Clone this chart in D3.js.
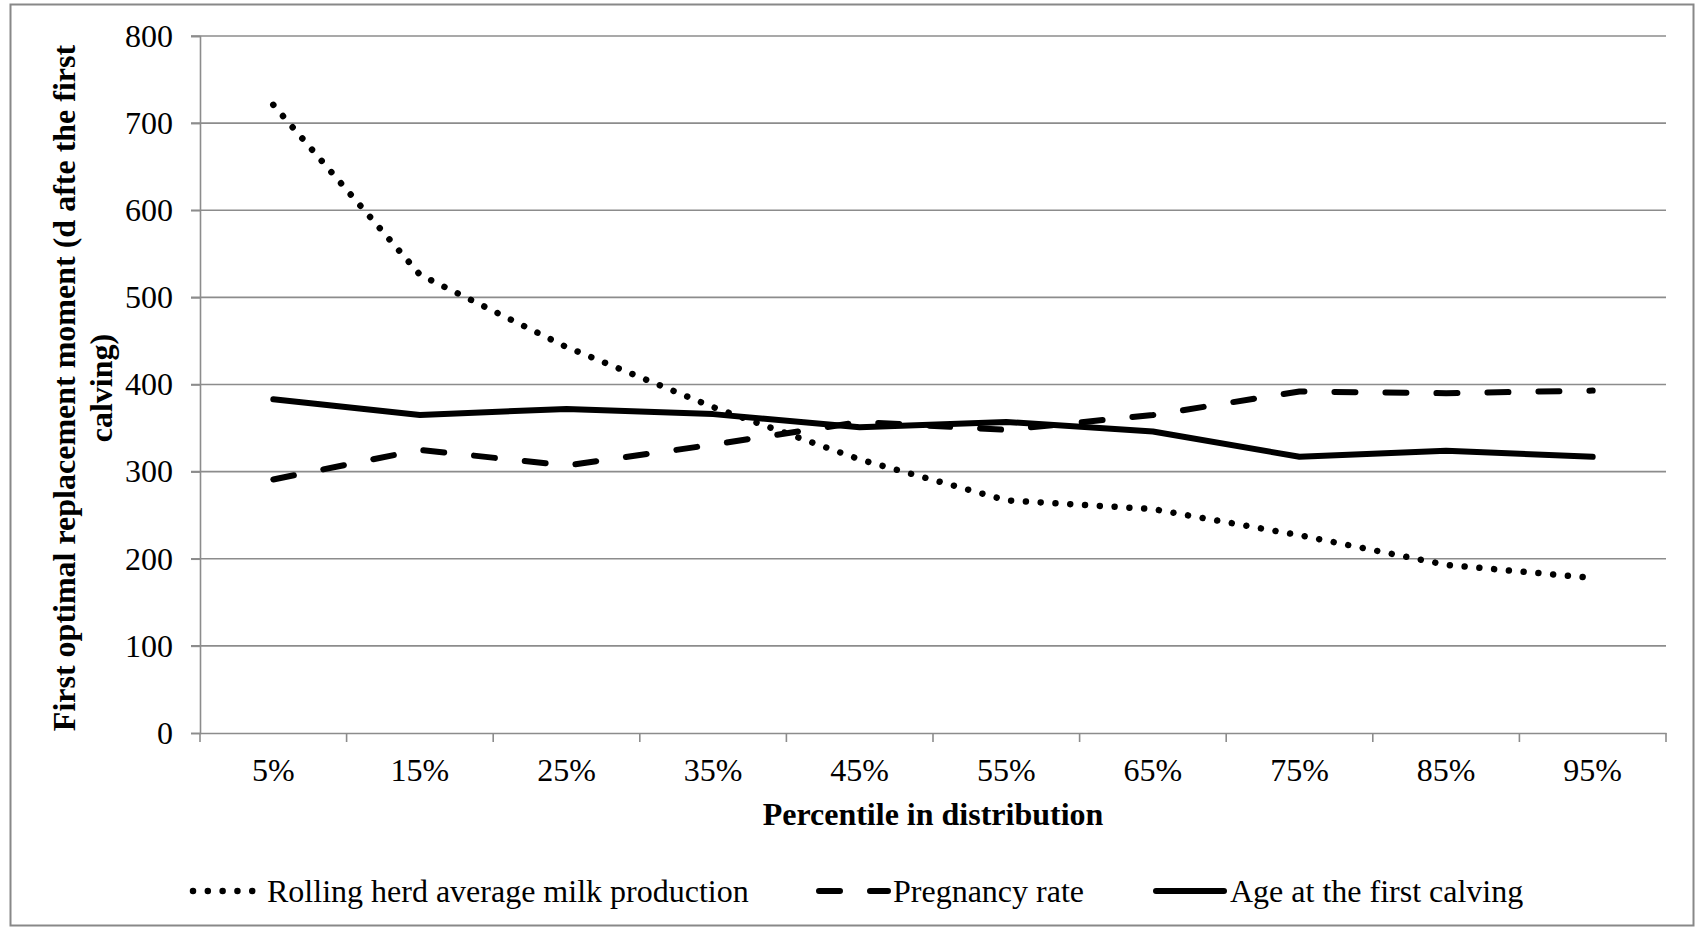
<!DOCTYPE html>
<html>
<head>
<meta charset="utf-8">
<script src="https://cdn.jsdelivr.net/npm/d3@7"></script>
<style>
  html, body { margin: 0; padding: 0; background: #fff; }
  svg { display: block; }
</style>
</head>
<body>
<svg id="chart" width="1696" height="929"></svg>
<script>
const categories = ["5%", "15%", "25%", "35%", "45%", "55%", "65%", "75%", "85%", "95%"];
const milkProduction = [721, 526, 443, 374, 314, 267, 257, 227, 193, 178];
const pregnancyRate = [291, 325, 307, 331, 357, 348, 365, 392, 390, 393];
const ageFirstCalving = [383, 365, 372, 366, 351, 357, 346, 317, 324, 317];
const yTicks = [0, 100, 200, 300, 400, 500, 600, 700, 800];
const seriesNames = ["Rolling herd average milk production", "Pregnancy rate", "Age at the first calving"];

const FONT = "'Liberation Serif', 'Times New Roman', serif";
const svg = d3.select("#chart");
const plot = { left: 200, right: 1666, top: 36, bottom: 733 };

// outer border
svg.append("rect")
  .attr("x", 10.5).attr("y", 4.5)
  .attr("width", 1683).attr("height", 921)
  .attr("fill", "#fff").attr("stroke", "#888").attr("stroke-width", 2);

const x = d3.scaleBand().domain(categories).range([plot.left, plot.right]);
const y = d3.scaleLinear().domain([0, 800]).range([plot.bottom, plot.top]);

// gridlines
svg.append("g").selectAll("line").data(yTicks.filter(d => d > 0)).join("line")
  .attr("x1", plot.left - 9).attr("x2", plot.right)
  .attr("y1", d => y(d)).attr("y2", d => y(d))
  .attr("stroke", "#8c8c8c").attr("stroke-width", 1.6);

// y axis
const yAxis = svg.append("g")
  .attr("transform", `translate(${plot.left},0)`)
  .call(d3.axisLeft(y).tickValues(yTicks).tickSize(9).tickPadding(18).tickFormat(d3.format("d")));
yAxis.select(".domain").attr("stroke", "#8c8c8c").attr("stroke-width", 1.6);
yAxis.selectAll(".tick line").attr("stroke", "#8c8c8c").attr("stroke-width", 1.6);
yAxis.selectAll(".tick text").attr("font-family", FONT).attr("font-size", 32).attr("fill", "#000");

// x axis
const xAxis = svg.append("g")
  .attr("transform", `translate(0,${plot.bottom})`)
  .call(d3.axisBottom(x).tickSize(0).tickPadding(25));
xAxis.select(".domain").attr("stroke", "#8c8c8c").attr("stroke-width", 1.6);
xAxis.selectAll(".tick text").attr("font-family", FONT).attr("font-size", 32).attr("fill", "#000");
// boundary ticks
const bounds = categories.map(c => x(c)).concat([x.range()[1]]);
svg.append("g").selectAll("line").data(bounds).join("line")
  .attr("x1", d => d).attr("x2", d => d)
  .attr("y1", plot.bottom).attr("y2", plot.bottom + 9)
  .attr("stroke", "#8c8c8c").attr("stroke-width", 1.6);

// lines
const styles = [
  { data: milkProduction, dash: "0.01 14.8", width: 6.5 },
  { data: pregnancyRate, dash: "21 30", width: 6 },
  { data: ageFirstCalving, dash: null, width: 6 }
];
const line = d3.line()
  .x((d, i) => x(categories[i]) + x.bandwidth() / 2)
  .y(d => y(d));
styles.forEach(s => {
  svg.append("path")
    .datum(s.data)
    .attr("d", line)
    .attr("fill", "none")
    .attr("stroke", "#000")
    .attr("stroke-width", s.width)
    .attr("stroke-linecap", "round")
    .attr("stroke-linejoin", "round")
    .attr("stroke-dasharray", s.dash);
});

// axis titles
svg.append("text")
  .attr("x", (plot.left + plot.right) / 2).attr("y", 825)
  .attr("text-anchor", "middle")
  .attr("font-family", FONT).attr("font-size", 32).attr("font-weight", "bold")
  .text("Percentile in distribution");

const yt = svg.append("text")
  .attr("transform", `translate(75,388) rotate(-90)`)
  .attr("text-anchor", "middle")
  .attr("font-family", FONT).attr("font-size", 32).attr("font-weight", "bold");
yt.append("tspan").attr("x", 0).attr("y", 0).text("First optimal replacement moment (d afte the first");
yt.append("tspan").attr("x", 0).attr("y", 37).text("calving)");

// legend
const legendItems = [
  { name: seriesNames[0], x1: 193, x2: 253, tx: 267, dash: "0.01 14.8", width: 6.5 },
  { name: seriesNames[1], x1: 819, x2: 888, tx: 893, dash: "21 30", width: 6 },
  { name: seriesNames[2], x1: 1156, x2: 1224, tx: 1230, dash: null, width: 6 }
];
const lg = svg.append("g");
legendItems.forEach(it => {
  lg.append("line")
    .attr("x1", it.x1).attr("x2", it.x2).attr("y1", 891).attr("y2", 891)
    .attr("stroke", "#000").attr("stroke-width", it.width)
    .attr("stroke-linecap", "round")
    .attr("stroke-dasharray", it.dash);
  lg.append("text")
    .attr("x", it.tx).attr("y", 902)
    .attr("font-family", FONT).attr("font-size", 32).attr("fill", "#000")
    .text(it.name);
});
</script>
</body>
</html>
